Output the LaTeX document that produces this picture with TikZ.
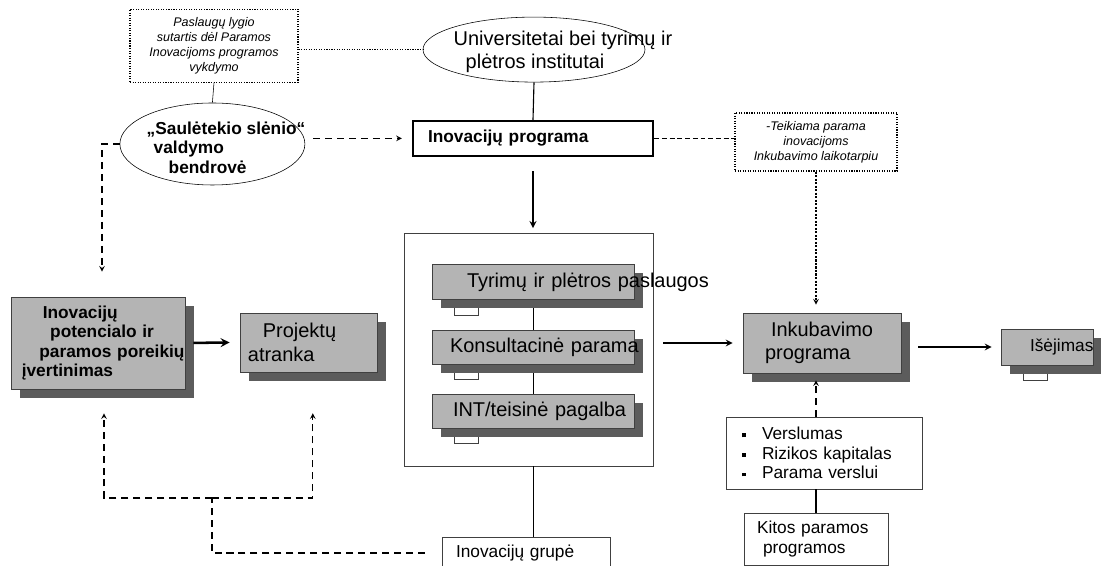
\documentclass[tikz,border=0pt]{standalone}
\usepackage{fontspec}
\setmainfont{Liberation Sans}
\usepackage{tikz}
\usetikzlibrary{positioning, calc, shapes.geometric, shadows, backgrounds, arrows}
\newcommand{\bigtxt}{\fontsize{14.2}{16.4}\selectfont}
\newcommand{\midtxt}{\fontsize{12.3}{13.9}\selectfont}
\newcommand{\smalltxt}{\fontsize{8.9}{10.7}\selectfont}
\newcommand{\sqbullet}{\makebox[0.5cm][l]{\rule[1.6pt]{2.8pt}{2.8pt}}}
\definecolor{boxgray}{RGB}{180,180,180}
\definecolor{shadowgray}{RGB}{92,92,92}
\definecolor{edgegray}{RGB}{64,64,64}
\tikzset{>=stealth}
\tikzset{
  gbox/.style={rectangle, draw=edgegray, fill=boxgray, inner ysep=0pt, align=left,
    general shadow={fill=shadowgray, shadow xshift=0.22cm, shadow yshift=-0.22cm}},
  wbox/.style={rectangle, draw=edgegray, fill=white, inner ysep=0pt, align=left, font=\midtxt},
  notebox/.style={rectangle, draw, densely dotted, thick, align=center, font=\smalltxt\itshape},
  oval/.style={ellipse, draw, inner sep=0pt},
  dashlink/.style={thick, dash pattern=on 5pt off 3.5pt},
  finelink/.style={thin, dash pattern=on 3.5pt off 2pt},
  dotlink/.style={thick, dash pattern=on 1.5pt off 1pt},
  flow/.style={very thick, ->}
}

\begin{document}
\begin{tikzpicture}
        \useasboundingbox (0,0) rectangle (27.525,14.15);

        % Top: agreement note, the two ovals and the programme
        \node[notebox, minimum width=4.2cm, minimum height=1.825cm] (pasl) at (5.35,13.01)
          {Paslaugų lygio\\sutartis dėl Paramos\\Inovacijoms programos\\vykdymo};
        \node[oval, minimum width=5.55cm, minimum height=1.625cm,
          label={[font=\bigtxt, align=left, xshift=0.725cm, yshift=-0.05cm]center:{Universitetai bei tyrimų ir\\\hspace*{0.3cm}plėtros institutai}}] (univ) at (13.35,12.91) {};
        \node[oval, minimum width=4.625cm, minimum height=2.05cm,
          label={[font=\midtxt\bfseries, align=left, xshift=0.34cm, yshift=-0.09cm]center:{„Saulėtekio slėnio“\\\hspace*{0.175cm}valdymo\\\hspace*{0.55cm}bendrovė}}] (saul) at (5.31,10.55) {};
        \node[draw, line width=1.6pt, minimum width=6cm, minimum height=0.875cm, inner xsep=0.375cm,
          text width=5.25cm, align=left, font=\midtxt\bfseries] (prog) at (13.325,10.69) {\mbox{Inovacijų programa}};
        \node[notebox, minimum width=4.05cm, minimum height=1.45cm] (teik) at (20.4,10.6)
          {-Teikiama parama\\inovacijoms\\Inkubavimo laikotarpiu};

        % Left column
        \node[gbox, minimum width=4.35cm, minimum height=2.3cm, inner xsep=0.27cm, text width=3.81cm,
          font=\midtxt\bfseries] (ivert) at (2.45,5.575)
          {\hspace*{0.525cm}\mbox{Inovacijų}\\\hspace*{0.71cm}\mbox{potencialo ir}\\\hspace*{0.44cm}\mbox{paramos poreikių}\\\mbox{įvertinimas}};
        \node[gbox, minimum width=3.425cm, minimum height=1.475cm, inner xsep=0.2cm, text width=3.025cm,
          font=\bigtxt] (proj) at (7.71,5.59) {\hspace*{0.375cm}\mbox{Projektų}\\\mbox{atranka}};

        % Services
        \node[draw=edgegray, minimum width=6.225cm, minimum height=5.825cm] (cont) at (13.21,5.41) {};
        \node[gbox, minimum width=5.05cm, minimum height=0.875cm, inner xsep=0.45cm, text width=4.15cm,
          font=\bigtxt] (tyr) at (13.325,7.1) {\hspace*{0.425cm}\mbox{Tyrimų ir plėtros paslaugos}};
        \node[gbox, minimum width=5.05cm, minimum height=0.85cm, inner xsep=0.45cm, text width=4.15cm,
          font=\bigtxt] (kons) at (13.325,5.475) {\mbox{Konsultacinė parama}};
        \node[gbox, minimum width=5.05cm, minimum height=0.85cm, inner xsep=0.45cm, text width=4.15cm,
          font=\bigtxt] (teis) at (13.325,3.875) {\hspace*{0.075cm}\mbox{INT/teisinė pagalba}};
        \node[wbox, minimum width=4.2cm, minimum height=0.8cm, inner xsep=0.35cm, text width=3.5cm]
          (grupe) at (13.15,0.325) {\mbox{Inovacijų grupė}};

        % Right column
        \node[gbox, minimum width=3.95cm, minimum height=1.5cm, inner xsep=0.55cm, text width=2.85cm,
          font=\bigtxt] (ink) at (20.55,5.575) {\hspace*{0.15cm}\mbox{Inkubavimo}\\\mbox{programa}};
        \node[gbox, minimum width=2.3cm, minimum height=0.9cm, inner xsep=0.725cm, text width=0.85cm,
          font=\midtxt] (isej) at (26.175,5.475) {\mbox{Išėjimas}};
        \node[wbox, minimum width=4.9cm, minimum height=1.8cm, inner xsep=0.4cm, text width=4.1cm]
          (bull) at (20.6,2.825) {\sqbullet\mbox{Verslumas}\\\sqbullet\mbox{Rizikos kapitalas}\\\sqbullet\mbox{Parama verslui}};
        \node[wbox, minimum width=3.6cm, minimum height=1.3cm, inner xsep=0.325cm, text width=2.95cm]
          (kitos) at (20.4,0.675) {\mbox{Kitos paramos}\\\hspace*{0.15cm}\mbox{programos}};

        % Links between the top blocks
        \draw[densely dotted, thick] (pasl.east |- univ.west) -- (univ.west);
        \draw (pasl.south) -- (saul.north);
        \draw[thick] (univ.south) -- (prog.north);
        \draw[dashlink, ->, shorten <=0.2cm, shorten >=0.25cm] (saul.east |- prog.west) -- (prog.west);
        \draw[finelink] (prog.east) -- (prog.east -| teik.west);
        \draw[dotlink, ->, shorten >=0.2cm] (teik.south) -- (teik.south |- ink.north);
        \draw[dashlink, ->] (saul.west) -| ([xshift=0.1cm, yshift=0.625cm]ivert.north);

        % Main flow
        \draw[flow, line width=1.8pt, shorten <=0.2cm, shorten >=0.25cm] (ivert.east) -- (proj.west);
        \draw[flow, shorten <=0.35cm, shorten >=0.12cm] (prog.south) -- (prog.south |- cont.north);
        \draw[flow, shorten <=0.25cm, shorten >=0.25cm] (cont.east |- ink.west) -- (ink.west);
        \draw[flow, shorten <=0.425cm, shorten >=0.225cm] (ink.east |- isej.west) -- (isej.west);

        % Bottom links
        \draw[dashlink, ->, shorten >=0.175cm] (bull.north -| kitos) -- (ink.south -| kitos);
        \draw[thick] (bull.south -| kitos) -- (kitos.north);
        \draw (cont.south -| kons) -- (grupe.north -| kons);
        \coordinate (split) at (5.3,1.7);
        \draw[dashlink, shorten <=0.425cm] (grupe.west) -| (split);
        \draw[dashlink, ->] (split) -| ([xshift=0.15cm, yshift=-0.6cm]ivert.south);
        \draw[dashlink, ->] (split) -| ([xshift=0.11cm, yshift=-1.025cm]proj.south);

        % Joints and tabs behind the service boxes
        \begin{scope}[on background layer]
          \draw (tyr) -- (kons);
          \draw (kons) -- (teis);
          \foreach \b in {tyr, kons, teis, isej}{
            \draw[draw=edgegray, fill=white] ([xshift=0.575cm, yshift=-0.15cm]\b.south west)
              rectangle ([xshift=1.175cm, yshift=-0.38cm]\b.south west);
          }
        \end{scope}
      \end{tikzpicture}
\end{document}
